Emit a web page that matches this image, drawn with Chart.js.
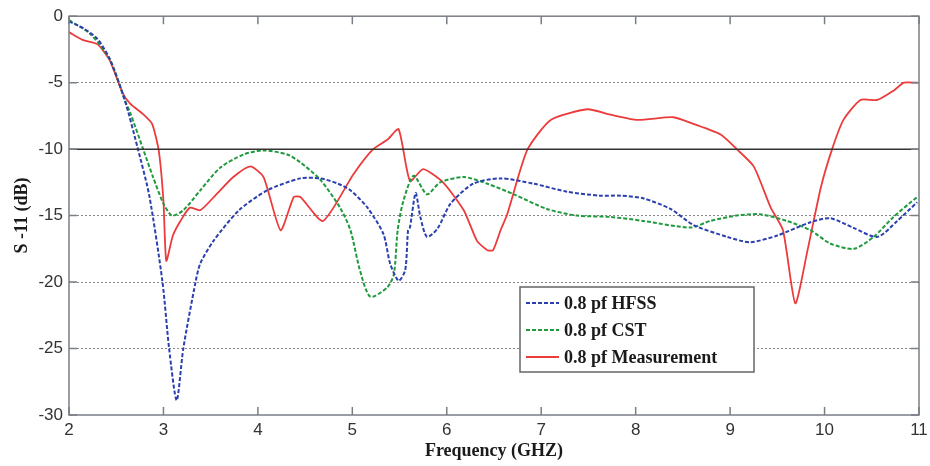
<!DOCTYPE html>
<html>
<head>
<meta charset="utf-8">
<script src="https://cdn.jsdelivr.net/npm/chart.js@4/dist/chart.umd.min.js"></script>
<style>
  html, body { margin: 0; padding: 0; background: #fff; }
  #wrap { width: 930px; height: 466px; }
</style>
</head>
<body>
<div id="wrap"><canvas id="s11Chart" width="930" height="466"></canvas></div>
<script>
// S11 vs frequency, 0.8 pf: HFSS / CST / measurement

const seriesLabels = ['0.8 pf HFSS', '0.8 pf CST', '0.8 pf Measurement'];

const hfssFreq = [2, 2.15, 2.3, 2.43, 2.59, 2.73, 2.85, 2.99, 3.06, 3.14, 3.21, 3.34, 3.39, 3.53, 3.8, 4.1, 4.45, 4.66, 4.85, 4.98, 5.16, 5.33, 5.4, 5.49, 5.56, 5.59, 5.61, 5.67, 5.72, 5.79, 5.9, 6.04, 6.28, 6.57, 6.92, 7.27, 7.62, 7.84, 8.08, 8.37, 8.61, 8.97, 9.21, 9.5, 9.85, 10.06, 10.3, 10.56, 10.77, 10.98];
const hfssS11 = [-0.4, -0.9, -1.7, -3.2, -6.3, -10, -13.5, -20, -25, -28.9, -25, -20, -18.6, -16.9, -14.6, -13.1, -12.2, -12.2, -12.6, -13.1, -14.4, -16.4, -18.6, -19.9, -19.1, -16.1, -15.9, -13.3, -15.1, -16.6, -16, -14.1, -12.6, -12.2, -12.6, -13.2, -13.5, -13.5, -13.7, -14.5, -15.7, -16.6, -17.0, -16.5, -15.5, -15.2, -15.9, -16.6, -15.4, -14.0];

const cstFreq = [2, 2.22, 2.43, 2.59, 2.65, 2.79, 2.89, 3.0, 3.09, 3.21, 3.39, 3.6, 3.85, 4.06, 4.31, 4.45, 4.66, 4.87, 4.98, 5.08, 5.19, 5.37, 5.44, 5.48, 5.54, 5.65, 5.79, 5.93, 6.18, 6.43, 6.71, 7.06, 7.38, 7.73, 8.08, 8.58, 8.79, 9.07, 9.32, 9.6, 9.85, 10.06, 10.31, 10.52, 10.73, 10.98];
const cstS11 = [-0.3, -1.3, -3.2, -6.3, -7.3, -10.1, -12.1, -14.1, -15.0, -14.6, -13.1, -11.4, -10.4, -10.1, -10.4, -11.0, -12.3, -14.4, -16.1, -19.1, -21.1, -20.4, -19.4, -16.1, -13.9, -12.0, -13.4, -12.5, -12.1, -12.6, -13.4, -14.5, -15.0, -15.1, -15.4, -15.9, -15.4, -15.0, -14.9, -15.4, -16.1, -17.1, -17.5, -16.6, -15.1, -13.6];

const measFreq = [2, 2.15, 2.3, 2.43, 2.57, 2.65, 2.79, 2.88, 2.95, 3.0, 3.03, 3.1, 3.18, 3.28, 3.39, 3.56, 3.74, 3.92, 4.06, 4.24, 4.38, 4.45, 4.69, 5.01, 5.22, 5.37, 5.49, 5.61, 5.75, 5.96, 6.18, 6.32, 6.43, 6.49, 6.57, 6.64, 6.85, 7.1, 7.49, 7.73, 8.02, 8.4, 8.61, 8.9, 9.07, 9.25, 9.43, 9.56, 9.69, 9.82, 9.96, 10.08, 10.2, 10.38, 10.56, 10.73, 10.84, 10.99];
const measS11 = [-1.2, -1.8, -2.1, -3.3, -5.8, -6.6, -7.4, -8.1, -10.1, -13.9, -18.4, -16.5, -15.4, -14.4, -14.6, -13.4, -12.1, -11.3, -12.1, -16.1, -13.6, -13.6, -15.4, -11.9, -10.0, -9.3, -8.5, -12.4, -11.5, -12.5, -14.6, -16.9, -17.6, -17.6, -16.1, -14.9, -10.1, -7.8, -7.0, -7.4, -7.8, -7.6, -8.1, -8.9, -10.0, -11.3, -14.4, -16.1, -21.6, -17.6, -12.9, -10.0, -7.8, -6.3, -6.3, -5.6, -5.0, -5.0];

const yTicks = [0, -5, -10, -15, -20, -25, -30];
const xTicks = [2, 3, 4, 5, 6, 7, 8, 9, 10, 11];

const pts = (xs, ys) => xs.map((x, i) => ({ x: x, y: ys[i] }));

const AXIS_GRAY = '#7a7f86';

// frame, inner ticks, solid -10 dB line and legend box
const framePlugin = {
  id: 'frame',
  afterDatasetsDraw(chart) {
    const { ctx, chartArea: a, scales } = chart;
    ctx.save();
    // -10 dB reference line
    const y10 = scales.y.getPixelForValue(-10);
    ctx.strokeStyle = '#333';
    ctx.lineWidth = 1.5;
    ctx.beginPath();
    ctx.moveTo(a.left, y10);
    ctx.lineTo(a.right, y10);
    ctx.stroke();
    // frame
    ctx.strokeStyle = AXIS_GRAY;
    ctx.lineWidth = 1.5;
    ctx.strokeRect(a.left, a.top, a.right - a.left, a.bottom - a.top);
    // ticks pointing inward
    ctx.beginPath();
    xTicks.forEach(v => {
      const x = scales.x.getPixelForValue(v);
      ctx.moveTo(x, a.top); ctx.lineTo(x, a.top + 8);
      ctx.moveTo(x, a.bottom); ctx.lineTo(x, a.bottom - 8);
    });
    yTicks.forEach(v => {
      const y = scales.y.getPixelForValue(v);
      ctx.moveTo(a.left, y); ctx.lineTo(a.left + 8, y);
      ctx.moveTo(a.right, y); ctx.lineTo(a.right - 8, y);
    });
    ctx.stroke();

    // legend
    const lx = 520, ly = 287, lw = 234, lh = 85;
    ctx.fillStyle = '#fff';
    ctx.fillRect(lx, ly, lw, lh);
    ctx.strokeStyle = '#666';
    ctx.lineWidth = 1.5;
    ctx.strokeRect(lx, ly, lw, lh);
    ctx.font = 'bold 18px "Liberation Serif", "Times New Roman", serif';
    ctx.textBaseline = 'middle';
    chart.data.datasets.forEach((ds, i) => {
      const cy = ly + 16 + i * 27;
      ctx.strokeStyle = ds.borderColor;
      ctx.lineWidth = 2;
      ctx.setLineDash(ds.borderDash || []);
      ctx.beginPath();
      ctx.moveTo(lx + 6, cy);
      ctx.lineTo(lx + 39, cy);
      ctx.stroke();
      ctx.setLineDash([]);
      ctx.fillStyle = '#1a1a1a';
      ctx.fillText(ds.label, lx + 44, cy + 1);
    });
    ctx.restore();
  }
};

new Chart(document.getElementById('s11Chart').getContext('2d'), {
  type: 'line',
  data: {
    datasets: [
      {
        label: seriesLabels[0],
        data: pts(hfssFreq, hfssS11),
        borderColor: '#2b3fb0',
        borderWidth: 2,
        borderDash: [4, 2],
        tension: 0.25
      },
      {
        label: seriesLabels[1],
        data: pts(cstFreq, cstS11),
        borderColor: '#1f9a3c',
        borderWidth: 2,
        borderDash: [4, 2],
        tension: 0.25
      },
      {
        label: seriesLabels[2],
        data: pts(measFreq, measS11),
        borderColor: '#ec3b3b',
        borderWidth: 1.8,
        tension: 0.2
      }
    ]
  },
  options: {
    responsive: false,
    animation: false,
    elements: { point: { radius: 0 } },
    layout: { padding: { top: 15, right: 11, left: 0, bottom: 0 } },
    plugins: {
      legend: { display: false },
      tooltip: { enabled: false }
    },
    scales: {
      x: {
        type: 'linear',
        min: 2,
        max: 11,
        afterBuildTicks: s => { s.ticks = xTicks.map(v => ({ value: v })); },
        afterFit: s => { s.height = 51; },
        grid: { display: false },
        border: { display: false },
        ticks: {
          color: '#333',
          font: { family: '"Liberation Sans", Arial, sans-serif', size: 17 },
          padding: -3,
          maxRotation: 0
        },
        title: {
          display: true,
          text: 'Frequency (GHZ)',
          color: '#1a1a1a',
          font: { family: '"Liberation Serif", "Times New Roman", serif', size: 18, weight: 'bold' },
          padding: { top: 0, bottom: 4 }
        }
      },
      y: {
        min: -30,
        max: 0,
        afterBuildTicks: s => { s.ticks = yTicks.map(v => ({ value: v })); },
        afterFit: s => { s.width = 69; },
        grid: {
          drawTicks: false,
          color: ctx => (ctx.tick && [-5, -15, -20, -25].includes(ctx.tick.value)) ? '#888' : 'rgba(0,0,0,0)',
          lineWidth: 1
        },
        border: { display: false, dash: [2, 2] },
        ticks: {
          color: '#333',
          font: { family: '"Liberation Sans", Arial, sans-serif', size: 17 },
          padding: 6
        },
        title: {
          display: true,
          text: 'S -11 (dB)',
          color: '#1a1a1a',
          font: { family: '"Liberation Serif", "Times New Roman", serif', size: 18, weight: 'bold' },
          padding: { top: 12, bottom: 0 }
        }
      }
    }
  },
  plugins: [framePlugin]
});
</script>
</body>
</html>
